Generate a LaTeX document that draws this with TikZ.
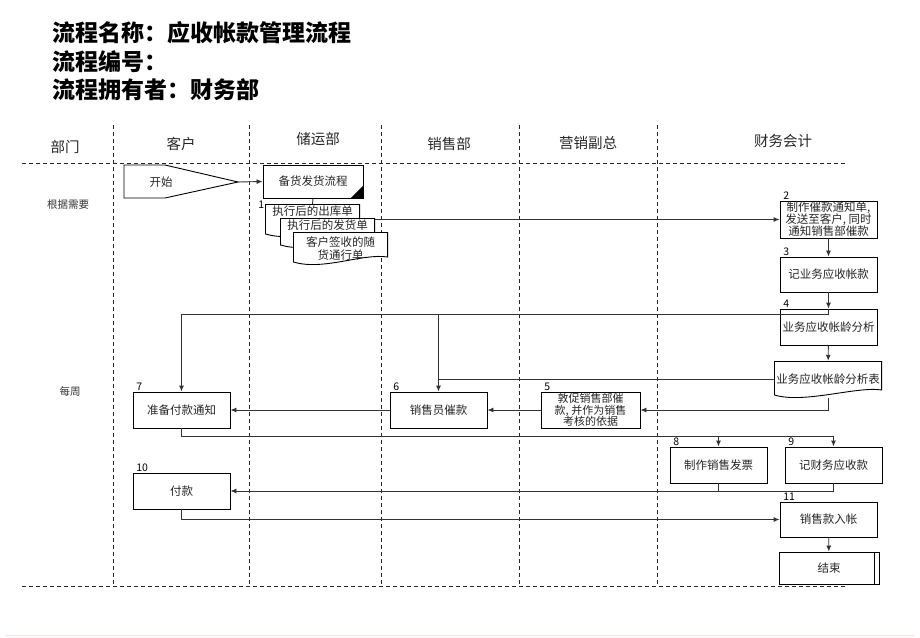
\documentclass[tikz,border=0pt]{standalone}
\usepackage{fontspec}
\setmainfont{Noto Sans CJK SC}
\usetikzlibrary{arrows.meta}
\tikzset{%
  every box/.style={
    rectangle,
    draw=black,
    line width=0.9pt,
    minimum width=97pt,
    minimum height=36pt,
    inner sep=1pt,
    align=center,
    text=black!85,
    font=\fontsize{11.5}{13}\selectfont
  },
  doc/.style={
    rectangle,
    draw=none,
    inner xsep=1pt,
    inner ysep=1pt,
    align=center,
    text=black!85,
    font=\fontsize{11.5}{13}\selectfont,
    path picture={
      \path[fill=white, draw=black, line width=0.9pt]
        ([shift={(0.45pt,-0.45pt)}]path picture bounding box.north west)
        -- ([shift={(-0.45pt,-0.45pt)}]path picture bounding box.north east)
        -- ([shift={(-0.45pt,8pt)}]path picture bounding box.south east)
        .. controls ([shift={(-25pt,12pt)}]path picture bounding box.south east)
           and ([shift={(30pt,-6pt)}]path picture bounding box.south west)
        .. ([shift={(0.45pt,3pt)}]path picture bounding box.south west) -- cycle;
    }
  },
  num/.style={anchor=south west, inner sep=0.5pt, font=\fontsize{10.5}{11}\selectfont},
  title/.style={anchor=west, inner sep=0pt, font=\fontsize{23}{26}\selectfont\bfseries},
  hdr/.style={inner sep=1pt, text=black!85, font=\fontsize{14.5}{16}\selectfont},
  side/.style={inner sep=1pt, text=black!80, font=\fontsize{10.5}{12}\selectfont},
  lane/.style={draw=black!85, line width=0.9pt, dash pattern=on 4pt off 3pt},
  conn/.style={draw=black!80, line width=0.9pt},
}

\begin{document}
\begin{tikzpicture}[x=1pt, y=-1pt, >={Latex[length=6pt,width=5pt]}]
\useasboundingbox (0,0) rectangle (920,637);

% Title block
\foreach \t [count=\i] in {流程名称：应收帐款管理流程, 流程编号：, 流程拥有者：财务部}
  \node[title] (title-\i) at (52,4.5+\i*28.5) {\t};

% Swim lanes
\foreach \x in {113,249,381,519,657}
  \draw[lane] (\x,125) -- (\x,586);
\draw[lane] (22,163) -- (845,163);
\draw[lane] (22,586) -- (845,586);

\foreach \l/\x/\y [count=\i] in {部门/65/147, 客户/181/144, 储运部/318/139, 销售部/449/144, 营销副总/588/143, 财务会计/783/141}
  \node[hdr] (hdr-\i) at (\x,\y) {\l};

\node[side] (freq-1) at (68,205) {根据需要};
\node[side] (freq-2) at (70,392) {每周};

% Start
\coordinate (tip) at (238,182);
\draw[line width=0.9pt] (124,165) -- (165,165) -- (tip) -- (165,198) -- (124,198) -- cycle;
\node[inner sep=1pt, text=black!85, font=\fontsize{11.5}{13}\selectfont] (start) at (161,182) {开始};

% Shipping
\node[every box, minimum width=100pt, minimum height=33pt] (b1) at (313,181.5) {备货发货流程};
\fill (b1.south east) -- ++(-13pt,0pt) -- ++(13pt,13pt) -- cycle;

\node[doc, minimum width=95pt, minimum height=33pt, text depth=20pt] (d1) at (312.5,220.5) {执行后的出库单};
\node[doc, minimum width=95pt, minimum height=30pt, text depth=17pt] (d2) at (327.5,233) {执行后的发货单};
\node[doc, minimum width=95pt, minimum height=33pt] (d3) at (340.5,248.5) {客户签收的随\\货通行单};

% Finance column
\node[every box, minimum height=37pt, inner sep=0pt, font=\fontsize{11.5}{12}\selectfont] (b2) at (828.5,219.5) {制作催款通知单,\\发送至客户, 同时\\通知销售部催款};
\node[every box, minimum height=35pt] (b3) at (828.5,274.5) {记业务应收帐款};
\node[every box] (b4) at (828.5,327) {业务应收帐龄分析};
\node[doc, minimum width=108pt, minimum height=37pt] (rep) at (828,379.5) {业务应收帐龄分析表};

% Weekly row
\node[every box, minimum width=99pt, inner sep=0pt, font=\fontsize{11}{11.5}\selectfont] (b5) at (590.5,410) {敦促销售部催\\款, 并作为销售\\考核的依据};
\node[every box] (b6) at (438.5,410) {销售员催款};
\node[every box] (b7) at (181.5,410) {准备付款通知};
\node[every box] (b8) at (718.5,465) {制作销售发票};
\node[every box] (b9) at (833.5,465) {记财务应收款};
\node[every box] (b10) at (181.5,491) {付款};
\node[every box, minimum height=35pt] (b11) at (828.5,519.5) {销售款入帐};
\node[every box, minimum width=100pt, minimum height=32pt] (fin) at (829,568) {结束};
\draw[line width=0.9pt] ([xshift=-5.5pt]fin.north east) -- ([xshift=-5.5pt]fin.south east);

% Step numbers
\node[num, anchor=east] (num-1) at ([yshift=-1pt]d1.north west) {1};
\foreach \b/\n in {b2/2, b3/3, b4/4, b5/5, b6/6, b7/7, b8/8, b9/9, b10/10, b11/11}
  \node[num] (num-\n) at ([xshift=3pt]\b.north west) {\n};

% ALL OF THE ARROWS
\draw[conn, ->] (tip) -- (b1.west);
\draw[conn] (b1.south) -- (d1.north);
\draw[conn, ->] (b2.west -| d2.east) -- (b2.west);
\draw[conn, ->] (b2) -- (b3);
\draw[conn, ->] (b3) -- (b4);

\coordinate (j4) at (828.5,314);
\draw[conn] (b4.north) -- (j4);
\draw[conn, ->] (j4) -| (b7.north);
\draw[conn, ->] (j4 -| b6.north) -- (b6.north);

\draw[conn, ->] (b4) -- (rep);
\draw[draw=black!80, line width=0.6pt] (rep.west) -- (rep.west -| b6.north);
\draw[conn, ->] (rep.south) |- (b5.east);
\draw[conn, ->] (b5) -- (b6);
\draw[conn, ->] (b6) -- (b7);

\draw[conn] (b7.south) -- ++(0,8) coordinate (j7) -- (j7 -| b9.north);
\draw[conn, ->] (j7 -| b8.north) -- (b8.north);
\draw[conn, ->] (j7 -| b9.north) -- (b9.north);

\draw[conn] (b8.south) -- (b8.south |- b10.east);
\draw[conn, ->] (b9.south) |- (b10.east);
\draw[conn, ->] (b10.south) |- (b11.west);
\draw[conn, ->] (b11) -- (fin);

% page edge
\draw[pink!40, line width=0.6pt] (5,635) -- (915,635);

\end{tikzpicture}
\end{document}
